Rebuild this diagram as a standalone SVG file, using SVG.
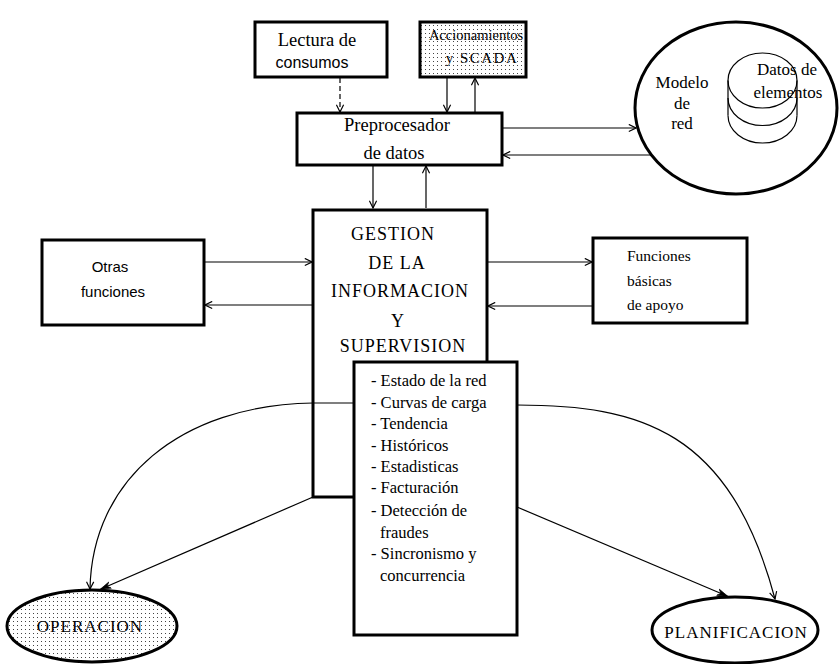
<svg xmlns="http://www.w3.org/2000/svg" width="839" height="664" viewBox="0 0 839 664">
  <defs>
    <pattern id="dots" width="4" height="4" patternUnits="userSpaceOnUse">
      <rect width="4" height="4" fill="#fff"/>
      <rect x="1" y="1" width="1" height="1" fill="#444"/>
    </pattern>
    <marker id="arr" viewBox="0 0 10 10" refX="9" refY="5" markerWidth="9" markerHeight="9" markerUnits="userSpaceOnUse" orient="auto">
      <path d="M1,1 L9,5 L1,9" fill="none" stroke="#000" stroke-width="1.3"/>
    </marker>
    <marker id="arrf" viewBox="0 0 10 10" refX="9" refY="5" markerWidth="11" markerHeight="11" markerUnits="userSpaceOnUse" orient="auto">
      <path d="M0,2 L10,5 L0,8 L3,5 Z" fill="#000" stroke="#000" stroke-width="0.6"/>
    </marker>
  </defs>
  <style>
    .box { fill: #fff; stroke: #000; stroke-width: 3; }
    .thin { fill: none; stroke: #000; stroke-width: 1.2; }
    .ln { fill: none; stroke: #000; stroke-width: 1.2; marker-end: url(#arr); }
    .lnf { fill: none; stroke: #000; stroke-width: 1.2; marker-end: url(#arrf); }
    .serif { font-family: "Liberation Serif", "Times New Roman", serif; fill: #000; }
    .sans { font-family: "Liberation Sans", Arial, sans-serif; fill: #000; }
    .caps { font-family: "Liberation Serif", "Times New Roman", serif; fill: #000; letter-spacing: 1px; }
    .c { text-anchor: middle; }
  </style>

  <rect width="839" height="664" fill="#fff"/>

  <!-- connectors -->
  <g id="connectors">
    <path class="ln" d="M340,78 L340,112" stroke-dasharray="5,3"/>
    <path class="ln" d="M447,78 L447,112"/>
    <path class="ln" d="M475,112 L475,78"/>
    <path class="ln" d="M373,166 L373,208"/>
    <path class="ln" d="M426,208 L426,166"/>
    <path class="ln" d="M503,128 L636,128"/>
    <path class="ln" d="M651,155 L503,155"/>
    <path class="ln" d="M205,262 L312,262"/>
    <path class="ln" d="M312,305 L205,305"/>
    <path class="ln" d="M488,262 L592,262"/>
    <path class="ln" d="M592,306 L488,306"/>
  </g>

  <!-- Lectura de consumos -->
  <g id="lectura">
    <rect class="box" x="255" y="22" width="132" height="55"/>
    <text class="serif c" x="317" y="46" font-size="18.5">Lectura de</text>
    <text class="sans c" x="312" y="68" font-size="16">consumos</text>
  </g>

  <!-- Accionamientos y SCADA -->
  <g id="scada">
    <rect class="box" x="420" y="22" width="106" height="55" style="fill:url(#dots)"/>
    <text class="serif c" x="476" y="40" font-size="14.5">Accionamientos</text>
    <text class="serif c" x="482" y="63" font-size="15" letter-spacing="1.5">y SCADA</text>
  </g>

  <!-- Preprocesador de datos -->
  <g id="preprocesador">
    <rect class="box" x="297" y="113" width="205" height="52"/>
    <text class="serif c" x="397" y="131" font-size="18.5">Preprocesador</text>
    <text class="serif c" x="394" y="159" font-size="18.5">de datos</text>
  </g>

  <!-- Modelo de red -->
  <g id="modelo">
    <ellipse cx="736" cy="108" rx="101" ry="86" fill="#fff" stroke="#000" stroke-width="3"/>
    <text class="serif c" x="682" y="88" font-size="17">Modelo</text>
    <text class="serif c" x="682" y="109" font-size="17">de</text>
    <text class="serif c" x="682" y="129" font-size="17">red</text>
  </g>

  <!-- Datos de elementos -->
  <g id="datos">
    <path class="thin" d="M728,80.5 L728,115.5 M797,80.5 L797,115.5"/>
    <path class="thin" d="M728,98 A34.5,27.5 0 0 0 797,98"/>
    <path class="thin" d="M728,115.5 A34.5,27.5 0 0 0 797,115.5"/>
    <ellipse class="thin" cx="762.5" cy="80.5" rx="34.5" ry="27.5"/>
    <text class="serif c" x="787" y="75" font-size="17">Datos de</text>
    <text class="serif c" x="788" y="98" font-size="17">elementos</text>
  </g>

  <!-- Otras funciones -->
  <g id="otras">
    <rect class="box" x="42" y="240" width="162" height="85"/>
    <text class="sans c" x="110" y="272" font-size="15">Otras</text>
    <text class="sans c" x="113" y="297" font-size="15">funciones</text>
  </g>

  <!-- Funciones básicas de apoyo -->
  <g id="funciones">
    <rect class="box" x="593" y="238" width="154" height="85"/>
    <text class="serif" x="627" y="261" font-size="15.5">Funciones</text>
    <text class="serif" x="627" y="286" font-size="15.5">básicas</text>
    <text class="serif" x="627" y="310" font-size="15.5">de apoyo</text>
  </g>

  <!-- Gestión de la información y supervisión -->
  <g id="gestion">
    <rect class="box" x="313" y="210" width="174" height="287"/>
    <text class="caps c" x="393" y="240" font-size="18">GESTION</text>
    <text class="caps c" x="397" y="269" font-size="18">DE LA</text>
    <text class="caps c" x="400" y="297" font-size="18">INFORMACION</text>
    <text class="caps c" x="398" y="327" font-size="18">Y</text>
    <text class="caps c" x="403" y="352" font-size="18">SUPERVISION</text>
  </g>

  <!-- Lista de servicios -->
  <g id="lista">
    <rect class="box" x="354" y="362" width="163" height="273"/>
    <g class="serif" font-size="16.5">
      <text x="371" y="386">- Estado de la red</text>
      <text x="371" y="408">- Curvas de carga</text>
      <text x="371" y="429">- Tendencia</text>
      <text x="371" y="451">- Históricos</text>
      <text x="371" y="472">- Estadisticas</text>
      <text x="371" y="493">- Facturación</text>
      <text x="371" y="516">- Detección de</text>
      <text x="380" y="538">fraudes</text>
      <text x="371" y="559">- Sincronismo y</text>
      <text x="380" y="581">concurrencia</text>
    </g>
  </g>

  <!-- output connectors -->
  <g id="outputs">
    <path class="ln" d="M354,403 L313,403 C180,405 92,480 90,589"/>
    <path class="lnf" d="M313,497 L101,589"/>
    <path class="ln" d="M517,405 C640,405 730,430 775,599"/>
    <path class="lnf" d="M517,507 L727,596"/>
  </g>

  <!-- OPERACION -->
  <g id="operacion">
    <ellipse cx="92" cy="626" rx="85" ry="36" style="fill:url(#dots)" stroke="#000" stroke-width="3"/>
    <text class="caps c" x="90" y="632" font-size="17">OPERACION</text>
  </g>

  <!-- PLANIFICACION -->
  <g id="planificacion">
    <ellipse cx="735" cy="630" rx="83" ry="33" fill="#fff" stroke="#000" stroke-width="3"/>
    <text class="caps c" x="736" y="638" font-size="17">PLANIFICACION</text>
  </g>
</svg>
